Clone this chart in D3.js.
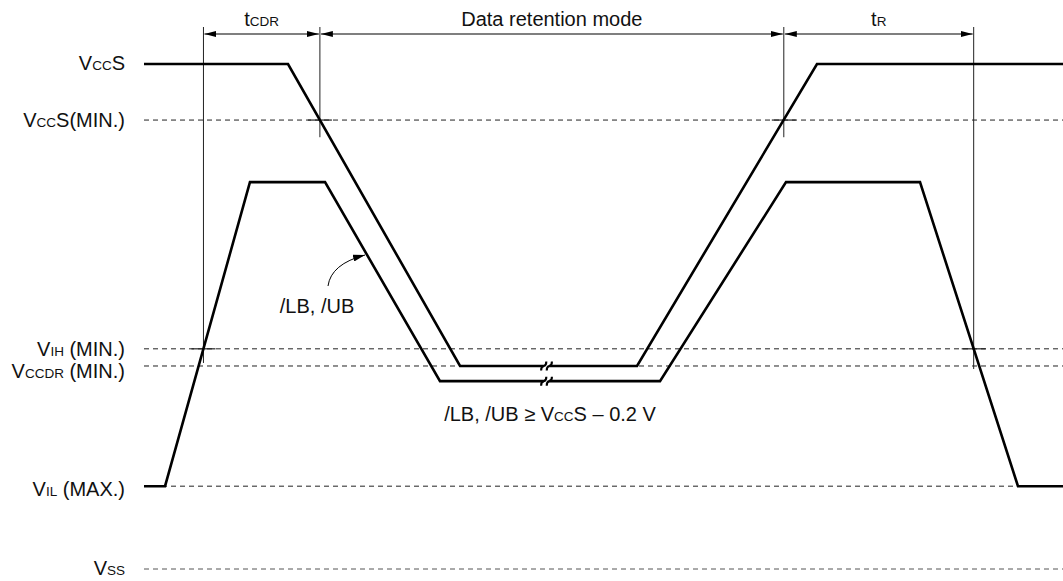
<!DOCTYPE html>
<html>
<head>
<meta charset="utf-8">
<script src="https://cdn.jsdelivr.net/npm/d3@7"></script>
<style>
  html, body { margin: 0; padding: 0; background: #fff; }
  svg { display: block; font-family: "Liberation Sans", Arial, sans-serif; }
</style>
</head>
<body>
<svg id="chart" width="1063" height="581"></svg>
<script>
// ---- data ----
// voltage levels (arbitrary units) and their labels (parts: [text, isSmall])
const levelKeys   = ["VCCS", "VCCSMIN", "VIHMIN", "VCCDRMIN", "VILMAX", "VSS"];
const levelValues = [10, 8.89, 4.36, 4.02, 1.64, 0];
const levelLabels = [
  [["V",0],["CC",1],["S",0]],
  [["V",0],["CC",1],["S(MIN.)",0]],
  [["V",0],["IH",1],[" (MIN.)",0]],
  [["V",0],["CCDR",1],[" (MIN.)",0]],
  [["V",0],["IL",1],[" (MAX.)",0]],
  [["V",0],["SS",1]]
];
const levelLabelShift = [-1, 0, 0, 5, 3, -1];
const dashedLevels = ["VCCSMIN", "VIHMIN", "VCCDRMIN", "VILMAX", "VSS"];

// VCCS supply waveform (time units, voltage units)
const vccsTimes  = [0, 15.67, 34.39, 53.65, 73.23, 100];
const vccsValues = [10, 10, 4.02, 4.02, 10, 10];
// /LB, /UB waveform
const lbTimes  = [0, 2.29, 11.53, 19.70, 32.21, 56.15, 69.86, 84.44, 95.10, 100];
const lbValues = [1.64, 1.64, 7.66, 7.66, 3.72, 3.72, 7.66, 7.66, 1.64, 1.64];

// timing reference markers
const markerTimes   = [6.47, 19.14, 69.62, 90.28];
const markerCross   = [4.36, 8.89, 8.89, 4.36];
const markerBottoms = [4.08, 8.55, 8.55, 3.96];

// timing intervals
const intervalStarts = [6.47, 19.14, 69.62];
const intervalEnds   = [19.14, 69.62, 90.28];
const intervalLabels = [
  [["t",0],["CDR",1]],
  [["Data retention mode",0]],
  [["t",0],["R",1]]
];

// break marks on the low portions
const breakTime = 43.8;
const breakValues = [4.02, 3.72];

// ---- scales ----
const svg = d3.select("#chart");
const x = d3.scaleLinear().domain([0, 100]).range([144, 1063]);
const y = d3.scaleLinear().domain([0, 10]).range([569, 64]);

const BIG = 20, SMALL = 13.5;

function addParts(textSel, parts) {
  parts.forEach(p => {
    textSel.append("tspan")
      .attr("font-size", p[1] ? SMALL : BIG)
      .text(p[0]);
  });
}

// defs: arrowheads
const defs = svg.append("defs");
function mk(id, orient, w, h) {
  defs.append("marker")
    .attr("id", id).attr("viewBox", `0 0 ${w} ${h}`)
    .attr("refX", w).attr("refY", h / 2)
    .attr("markerWidth", w).attr("markerHeight", h)
    .attr("markerUnits", "userSpaceOnUse")
    .attr("orient", orient)
    .append("path").attr("d", `M0,0 L${w},${h / 2} L0,${h} Z`).attr("fill", "#000");
}
mk("arrowEnd", "auto", 12, 6);
mk("arrowStart", "auto-start-reverse", 12, 6);
mk("arrowNote", "auto", 12, 7);

// dashed level lines
const levelIdx = k => levelKeys.indexOf(k);
svg.append("g").selectAll("line")
  .data(dashedLevels)
  .join("line")
  .attr("x1", x(0)).attr("x2", x(100))
  .attr("y1", k => y(levelValues[levelIdx(k)]))
  .attr("y2", k => y(levelValues[levelIdx(k)]))
  .attr("stroke", k => k === "VSS" ? "#555" : "#222")
  .attr("stroke-width", 1)
  .attr("stroke-dasharray", "5,4");

// level labels
const labG = svg.append("g");
levelKeys.forEach((k, i) => {
  const t = labG.append("text")
    .attr("x", 125)
    .attr("y", y(levelValues[i]) + 7 + levelLabelShift[i])
    .attr("text-anchor", "end")
    .attr("fill", "#111");
  addParts(t, levelLabels[i]);
});

// timing markers (vertical lines)
const mG = svg.append("g");
markerTimes.forEach((t, i) => {
  mG.append("line")
    .attr("x1", x(t)).attr("x2", x(t))
    .attr("y1", 27).attr("y2", y(markerBottoms[i]))
    .attr("stroke", "#222").attr("stroke-width", 1);
  mG.append("line")
    .attr("x1", x(t) - 12).attr("x2", x(t) + 12)
    .attr("y1", y(markerCross[i])).attr("y2", y(markerCross[i]))
    .attr("stroke", "#222").attr("stroke-width", 1.2);
});

// intervals with double arrows
const iG = svg.append("g");
intervalStarts.forEach((s, i) => {
  const e = intervalEnds[i];
  iG.append("line")
    .attr("x1", x(s) + 1).attr("x2", x(e) - 1)
    .attr("y1", 34).attr("y2", 34)
    .attr("stroke", "#000").attr("stroke-width", 1.2)
    .attr("marker-start", "url(#arrowStart)")
    .attr("marker-end", "url(#arrowEnd)");
  const t = iG.append("text")
    .attr("x", (x(s) + x(e)) / 2).attr("y", 26)
    .attr("text-anchor", "middle").attr("fill", "#111");
  addParts(t, intervalLabels[i]);
});

// waveforms
const line = d3.line().x(d => x(d[0])).y(d => y(d[1]));
svg.append("path")
  .attr("d", line(d3.zip(vccsTimes, vccsValues)))
  .attr("fill", "none").attr("stroke", "#000").attr("stroke-width", 2.6)
  .attr("stroke-linejoin", "miter");
svg.append("path")
  .attr("d", line(d3.zip(lbTimes, lbValues)))
  .attr("fill", "none").attr("stroke", "#000").attr("stroke-width", 2.6)
  .attr("stroke-linejoin", "miter");

// break marks
const bG = svg.append("g");
breakValues.forEach(v => {
  const cx = x(breakTime), cy = y(v);
  bG.append("rect")
    .attr("x", cx - 2.8).attr("y", cy - 3).attr("width", 5.6).attr("height", 6)
    .attr("fill", "#fff");
  [-2.8, 2.8].forEach(dx => {
    const px = cx + dx;
    bG.append("path")
      .attr("d", `M${px - 2.6},${cy + 4.5} Q${px - 2.6},${cy + 0.5} ${px},${cy} Q${px + 2.6},${cy - 0.5} ${px + 2.6},${cy - 4.5}`)
      .attr("fill", "none").attr("stroke", "#000").attr("stroke-width", 2.1);
  });
});

// annotation: /LB, /UB with curved arrow
svg.append("path")
  .attr("d", "M328,286 Q331,264 365,255")
  .attr("fill", "none").attr("stroke", "#000").attr("stroke-width", 1)
  .attr("marker-end", "url(#arrowNote)");
svg.append("text")
  .attr("x", 317).attr("y", 313)
  .attr("text-anchor", "middle").attr("fill", "#111")
  .attr("font-size", BIG).text("/LB, /UB");

// condition text
const cond = svg.append("text")
  .attr("x", 550).attr("y", 421)
  .attr("text-anchor", "middle").attr("fill", "#111");
addParts(cond, [["/LB, /UB \u2265 V",0],["CC",1],["S \u2013 0.2 V",0]]);
</script>
</body>
</html>
